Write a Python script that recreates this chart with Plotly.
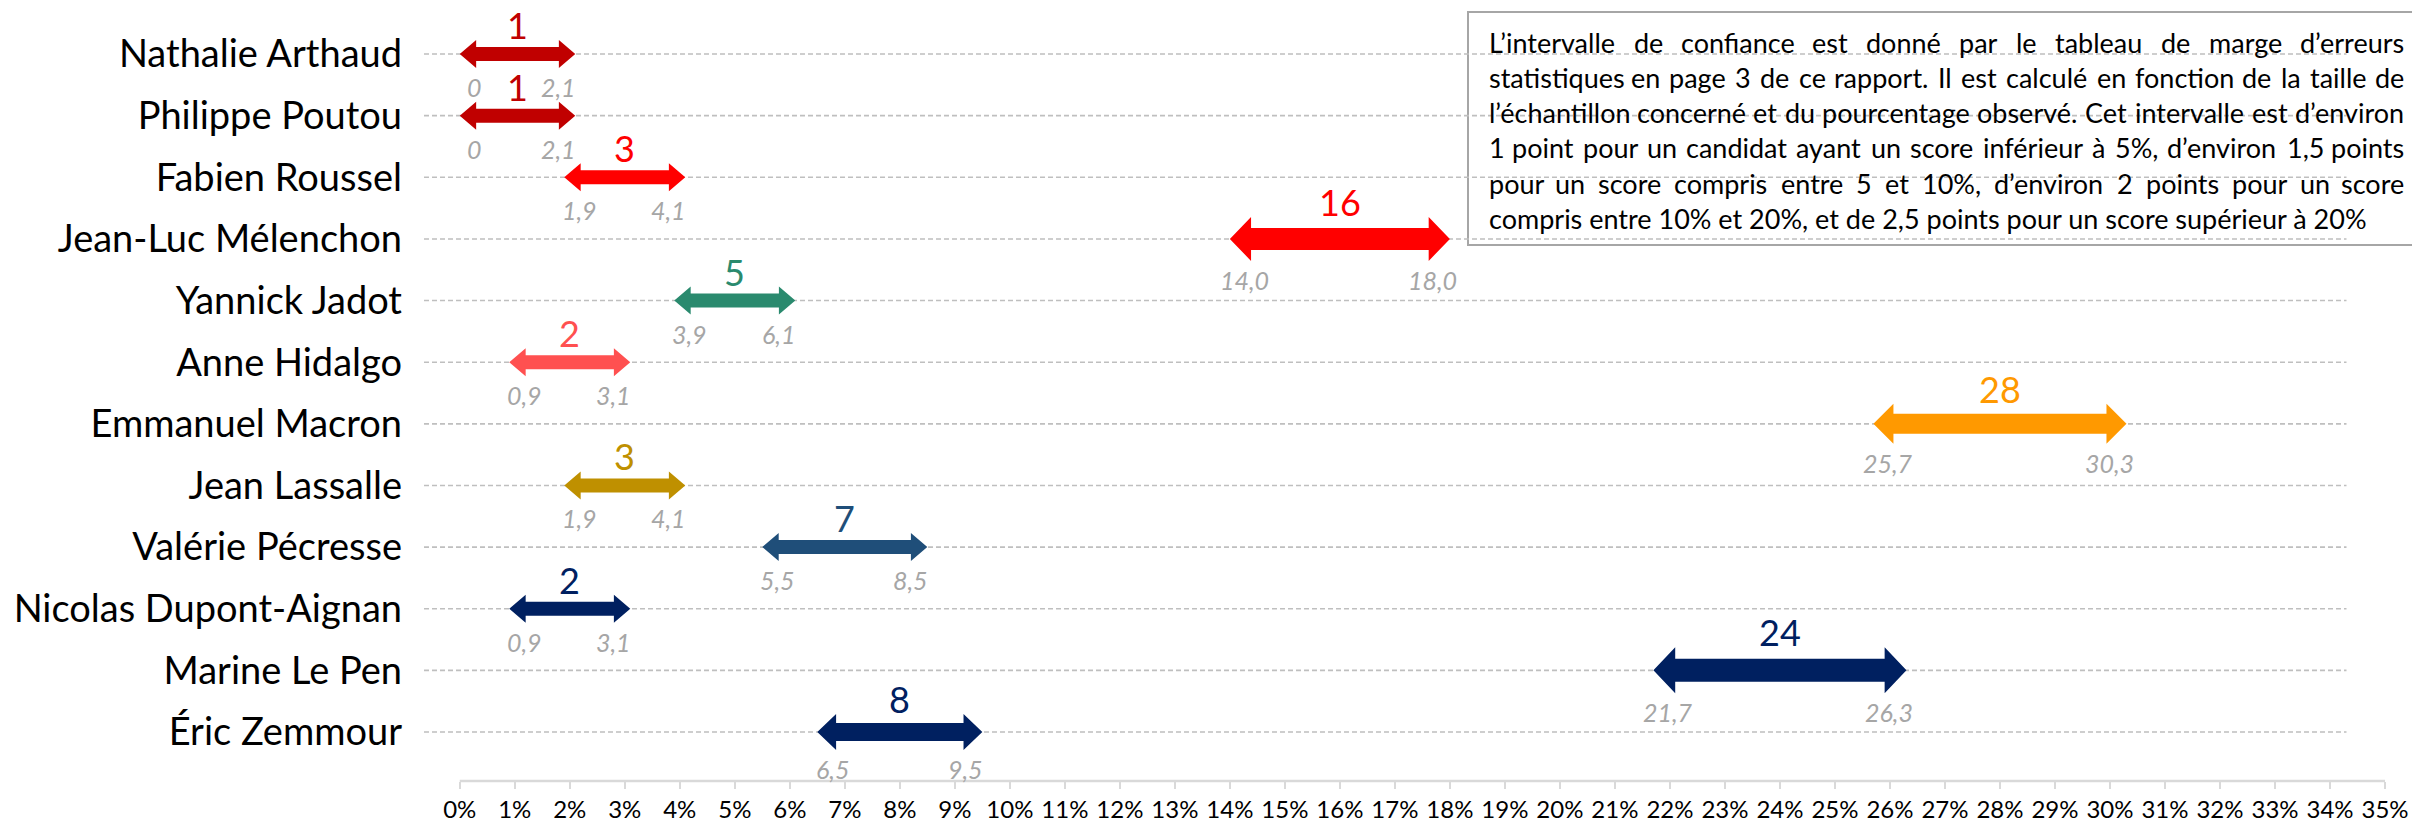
import plotly.graph_objects as go

# ---------------- data ----------------
candidates = ["Nathalie Arthaud", "Philippe Poutou", "Fabien Roussel", "Jean-Luc Mélenchon",
              "Yannick Jadot", "Anne Hidalgo", "Emmanuel Macron", "Jean Lassalle",
              "Valérie Pécresse", "Nicolas Dupont-Aignan", "Marine Le Pen", "Éric Zemmour"]
scores = [1, 1, 3, 16, 5, 2, 28, 3, 7, 2, 24, 8]
low = [0, 0, 1.9, 14.0, 3.9, 0.9, 25.7, 1.9, 5.5, 0.9, 21.7, 6.5]
high = [2.1, 2.1, 4.1, 18.0, 6.1, 3.1, 30.3, 4.1, 8.5, 3.1, 26.3, 9.5]
x_ticks = list(range(0, 36))
x_tick_labels = [f"{v}%" for v in x_ticks]
note_lines = [
    "L’intervalle de confiance est donné par le tableau de marge d’erreurs",
    "statistiques en page 3 de ce rapport. Il est calculé en fonction de la taille de",
    "l’échantillon concerné et du pourcentage observé. Cet intervalle est d’environ",
    "1 point pour un candidat ayant un score inférieur à 5%, d’environ 1,5 points",
    "pour un score compris entre 5 et 10%, d’environ 2 points pour un score",
    "compris entre 10% et 20%, et de 2,5 points pour un score supérieur à 20%",
]

# ---------------- styles ----------------
colors = ["#C00000", "#C00000", "#FF0000", "#FF0000", "#2A8A6E", "#FF5050",
          "#FF9900", "#BF9000", "#1F4E79", "#002060", "#002060", "#002060"]
shaft_px = [14, 14, 14, 22, 14, 14, 20, 14, 14, 14, 23, 18]
FONT = "Lato, 'Open Sans', sans-serif"

W, H = 2412, 828
OFF = 0  # page body margin removed by post_script
M_L, M_R, M_T, M_B = 424, 27, 20, 47
X_RANGE = [-0.65, 35]
Y_RANGE = [11.795, -0.552]
PLOT_W = W - M_L - M_R
PLOT_H = H - M_T - M_B
PX_X = PLOT_W / (X_RANGE[1] - X_RANGE[0])
PX_Y = PLOT_H / (Y_RANGE[0] - Y_RANGE[1])


def paper_x(px):
    return (px - OFF - M_L) / PLOT_W


def paper_y(py):
    return (H - M_B - (py - OFF)) / PLOT_H


def fmt(v):
    return "0" if v == 0 else f"{v:.1f}".replace(".", ",")


fig = go.Figure()
shapes = []
annotations = []

# grid lines (dashed)
for i in range(len(candidates)):
    shapes.append(dict(type="line", xref="x", yref="y", x0=-0.65, x1=34.3, y0=i, y1=i,
                       line=dict(color="#BFBFBF", width=1.6, dash="5px,3px"), layer="below"))

# note box (covers grid lines)
shapes.append(dict(type="rect", xref="paper", yref="paper",
                   x0=paper_x(1468), x1=paper_x(2440), y0=paper_y(245), y1=paper_y(12),
                   line=dict(color="#A6A6A6", width=2), fillcolor="white", layer="below"))

# x axis line
shapes.append(dict(type="line", xref="paper", yref="paper",
                   x0=(0 - X_RANGE[0]) / (X_RANGE[1] - X_RANGE[0]), x1=1, y0=0, y1=0,
                   line=dict(color="#D9D9D9", width=2.5)))

# arrows
for i, (a, b) in enumerate(zip(low, high)):
    s = shaft_px[i]
    h = (s / 2) / PX_Y
    hh = s / PX_Y
    L = (8 + 0.6 * s) / PX_X
    xs = [a, a + L, a + L, b - L, b - L, b, b - L, b - L, a + L, a + L, a]
    ys = [i, i - hh, i - h, i - h, i - hh, i, i + hh, i + h, i + h, i + hh, i]
    fig.add_trace(go.Scatter(x=xs, y=ys, mode="lines", fill="toself",
                             fillcolor=colors[i], line=dict(width=0, color=colors[i]),
                             hoverinfo="skip", showlegend=False))
    annotations.append(dict(x=(a + b) / 2, y=i, xref="x", yref="y", text=str(scores[i]),
                            showarrow=False, yshift=s + 15,
                            font=dict(family=FONT, size=36, color=colors[i])))
    annotations.append(dict(x=a, y=i, xref="x", yref="y", text=f"<i>{fmt(a)}</i>",
                            showarrow=False, xshift=15, yshift=-(s + 19),
                            font=dict(family=FONT, size=25, color="#A6A6A6")))
    annotations.append(dict(x=b, y=i, xref="x", yref="y", text=f"<i>{fmt(b)}</i>",
                            showarrow=False, xshift=-17, yshift=-(s + 19),
                            font=dict(family=FONT, size=25, color="#A6A6A6")))

# note text, justified word by word
CW = {" ": .26, "a": .497, "b": .556, "c": .459, "d": .556, "e": .52, "f": .318, "g": .502,
      "h": .556, "i": .245, "j": .245, "k": .509, "l": .245, "m": .833, "n": .556, "o": .556,
      "p": .55, "q": .556, "r": .369, "s": .43, "t": .36, "u": .556, "v": .507, "w": .773,
      "x": .492, "y": .507, "z": .454, "é": .52, "à": .497, "C": .659, "I": .268, "L": .47,
      "%": .777, ",": .22, ".": .226, "’": .224}
NOTE_SIZE = 27
TXT_L, TXT_R = 1487, 2406
line_y = [42, 77, 113, 148, 183, 218]


def wwidth(w):
    return sum(CW.get(c, .58 if c.isdigit() else .52) for c in w) * NOTE_SIZE


for li, line in enumerate(note_lines):
    words = line.split(" ")
    yp = paper_y(line_y[li])
    nf = dict(family=FONT, size=NOTE_SIZE, color="#000000")
    if li == len(note_lines) - 1:
        annotations.append(dict(x=paper_x(TXT_L), y=yp, xref="paper", yref="paper", text=line,
                                showarrow=False, xanchor="left", yanchor="middle", font=nf))
        continue
    widths = [wwidth(w) for w in words]
    gap = (TXT_R - TXT_L - sum(widths)) / (len(words) - 1)
    pos = TXT_L
    for k, w in enumerate(words):
        if k == 0:
            x, anc = pos, "left"
        elif k == len(words) - 1:
            x, anc = TXT_R, "right"
        else:
            x, anc = pos + widths[k] / 2, "center"
        annotations.append(dict(x=paper_x(x), y=yp, xref="paper", yref="paper", text=w,
                                showarrow=False, xanchor=anc, yanchor="middle", font=nf))
        pos += widths[k] + gap

fig.update_layout(
    width=W, height=H,
    margin=dict(l=M_L, r=M_R, t=M_T, b=M_B, autoexpand=False),
    paper_bgcolor="white", plot_bgcolor="white",
    showlegend=False, hovermode=False,
    shapes=shapes, annotations=annotations,
    xaxis=dict(range=X_RANGE, tickvals=x_ticks, ticktext=x_tick_labels, ticks="outside",
               ticklen=7, tickwidth=2, tickcolor="#D9D9D9", showgrid=False, zeroline=False,
               showline=False, fixedrange=True,
               tickfont=dict(family=FONT, size=24, color="#000000")),
    yaxis=dict(range=Y_RANGE, tickvals=list(range(len(candidates))), ticktext=candidates,
               showgrid=False, zeroline=False, showline=False, ticks="", fixedrange=True,
               ticklabelstandoff=21, tickfont=dict(family=FONT, size=38, color="#000000")),
)

fig.write_html("out.html", config={"displayModeBar": False},
               post_script="document.body.style.margin='0px';")
